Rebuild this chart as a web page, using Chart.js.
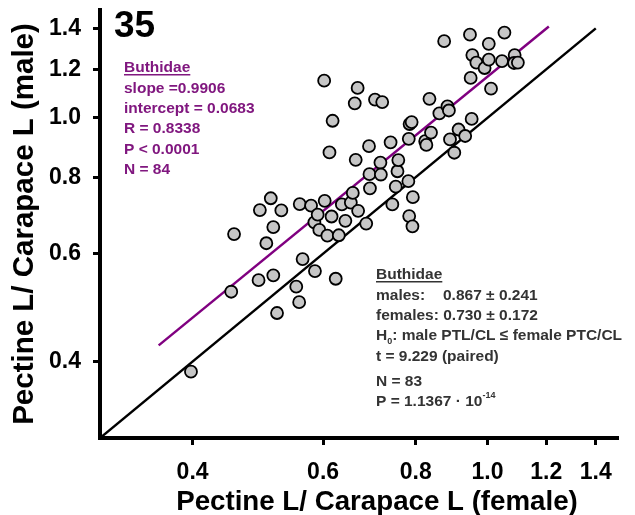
<!DOCTYPE html>
<html>
<head>
<meta charset="utf-8">
<script src="https://cdn.jsdelivr.net/npm/chart.js@4.4.1/dist/chart.umd.min.js"></script>
<style>
  html, body { margin: 0; padding: 0; background: #fff; }
  #wrap { width: 635px; height: 515px; }
</style>
</head>
<body>
<div id="wrap"><canvas id="c" width="635" height="515"></canvas></div>
<script>
// Pectine length / carapace length, female vs male, Buthidae (log-log scatter)

const femaleRatio = [
  0.398, 0.451, 0.455, 0.491, 0.493, 0.503, 0.510, 0.514, 0.514, 0.520,
  0.527, 0.552, 0.557, 0.558, 0.563, 0.578, 0.584, 0.585, 0.590, 0.593,
  0.602, 0.603, 0.608, 0.612, 0.616, 0.618, 0.624, 0.630, 0.636, 0.643,
  0.654, 0.658, 0.662, 0.664, 0.668, 0.669, 0.686, 0.692, 0.693, 0.694,
  0.705, 0.717, 0.718, 0.721, 0.740, 0.744, 0.752, 0.756, 0.758, 0.782,
  0.783, 0.784, 0.785, 0.790, 0.792, 0.793, 0.824, 0.827, 0.835, 0.839,
  0.861, 0.874, 0.883, 0.887, 0.890, 0.902, 0.914, 0.933, 0.947, 0.949,
  0.952, 0.954, 0.966, 0.991, 1.004, 1.004, 1.011, 1.046, 1.054, 1.088,
  1.086, 1.099
];
const maleRatio = [
  0.385, 0.520, 0.646, 0.543, 0.707, 0.624, 0.739, 0.663, 0.553, 0.480,
  0.706, 0.530, 0.500, 0.723, 0.588, 0.719, 0.675, 0.562, 0.695, 0.656,
  1.150, 0.732, 0.642, 0.878, 0.690, 0.989, 0.546, 0.643, 0.722, 0.679,
  0.727, 0.754, 1.056, 0.854, 1.119, 0.705, 0.672, 0.899, 0.809, 0.767,
  1.071, 0.845, 0.808, 1.061, 0.912, 0.722, 0.772, 0.818, 0.853, 0.788,
  0.924, 0.691, 0.977, 0.984, 0.665, 0.742, 0.916, 0.903, 1.074, 0.946,
  1.017, 1.334, 1.044, 1.028, 0.922, 0.877, 0.957, 0.934, 1.367, 1.162,
  0.996, 1.266, 1.231, 1.206, 1.321, 1.245, 1.116, 1.238, 1.378, 1.266,
  1.229, 1.231
];

const xTicks = [0.4, 0.6, 0.8, 1.0, 1.2, 1.4];
const yTicks = [0.4, 0.6, 0.8, 1.0, 1.2, 1.4];

// y = x reference line and the fitted regression line (end points)
const equalLineX = [0.3, 1.4];
const equalLineY = [0.3, 1.4];
const fitLineX = [0.36, 1.21];
const fitLineY = [0.425, 1.41];

const panelLabel = '35';
const xTitle = 'Pectine L/ Carapace L (female)';
const yTitle = 'Pectine L/ Carapace L (male)';
const fitTitle = 'Buthidae';
const fitLines = ['slope =0.9906', 'intercept = 0.0683', 'R = 0.8338', 'P < 0.0001', 'N = 84'];
const testTitle = 'Buthidae';

const FONT = '"Liberation Sans", Arial, Helvetica, sans-serif';
const PURPLE = '#80177f';
const GREY_TXT = '#333333';

function pairs(xs, ys) {
  return xs.map((x, i) => ({ x, y: ys[i] }));
}

function underlined(ctx, text, x, y) {
  ctx.fillText(text, x, y);
  const w = ctx.measureText(text).width;
  ctx.fillRect(x, y + 2, w, 1.5);
}

const textPlugin = {
  id: 'annotText',
  afterDraw(chart) {
    const ctx = chart.ctx;
    ctx.save();
    ctx.textBaseline = 'alphabetic';
    ctx.textAlign = 'left';

    // panel number
    ctx.fillStyle = '#000';
    ctx.font = `bold 37px ${FONT}`;
    ctx.fillText(panelLabel, 114, 37);

    // x axis title
    ctx.font = `bold 27.7px ${FONT}`;
    ctx.textAlign = 'center';
    ctx.fillText(xTitle, 377, 510);
    ctx.textAlign = 'left';

    // regression box
    ctx.fillStyle = PURPLE;
    ctx.font = `bold 15.5px ${FONT}`;
    underlined(ctx, fitTitle, 124, 72);
    fitLines.forEach((t, i) => ctx.fillText(t, 124, 92.5 + i * 20.4));

    // paired t-test box
    ctx.fillStyle = GREY_TXT;
    const x0 = 376;
    underlined(ctx, testTitle, x0, 279);
    ctx.fillText('males:', x0, 299.5);
    ctx.fillText('0.867 \u00b1 0.241', 443, 299.5);
    ctx.fillText('females: 0.730 \u00b1 0.172', x0, 319.5);
    // H0 line with subscript
    ctx.fillText('H', x0, 340);
    let w = ctx.measureText('H').width;
    ctx.font = `bold 9px ${FONT}`;
    ctx.fillText('0', x0 + w, 343.5);
    const w0 = ctx.measureText('0').width;
    ctx.font = `bold 15.5px ${FONT}`;
    ctx.fillText(': male PTL/CL \u2264 female PTC/CL', x0 + w + w0, 340);
    ctx.fillText('t = 9.229 (paired)', x0, 361);
    ctx.fillText('N = 83', x0, 385.5);
    const pTxt = 'P = 1.1367 \u00b7 10';
    ctx.fillText(pTxt, x0, 406);
    w = ctx.measureText(pTxt).width;
    ctx.font = `bold 9px ${FONT}`;
    ctx.fillText('-14', x0 + w, 398);
    ctx.restore();
  }
};

const tickFont = { family: FONT, size: 23, weight: 'bold' };
const tickGrid = {
  drawOnChartArea: false,
  drawTicks: true,
  tickLength: 7,
  tickWidth: 3,
  tickColor: '#000',
  color: '#000'
};

new Chart(document.getElementById('c'), {
  type: 'scatter',
  data: {
    datasets: [
      {
        label: 'pairs',
        data: pairs(femaleRatio, maleRatio),
        pointRadius: 6,
        pointBorderWidth: 1.8,
        pointBackgroundColor: '#c6c6c6',
        pointBorderColor: '#000',
        showLine: false,
        order: 0
      },
      {
        label: 'fit',
        data: pairs(fitLineX, fitLineY),
        showLine: true,
        borderColor: '#800080',
        borderWidth: 2.5,
        pointRadius: 0,
        order: 1
      },
      {
        label: 'x = y',
        data: pairs(equalLineX, equalLineY),
        showLine: true,
        borderColor: '#000',
        borderWidth: 2.5,
        pointRadius: 0,
        order: 2
      }
    ]
  },
  options: {
    responsive: false,
    animation: false,
    layout: { padding: { top: 10, right: 17, bottom: 0, left: 0 } },
    plugins: { legend: { display: false }, tooltip: { enabled: false } },
    scales: {
      x: {
        type: 'logarithmic',
        position: 'bottom',
        min: 0.3,
        max: 1.5,
        afterBuildTicks: (s) => { s.ticks = xTicks.map((v) => ({ value: v })); },
        afterFit: (s) => {
          s.height = 77;
          s.paddingLeft = 0;
          s.paddingRight = 0;
        },
        ticks: {
          callback: (v) => Number(v).toFixed(1),
          color: '#000',
          font: tickFont,
          padding: 14,
          autoSkip: false,
          maxRotation: 0
        },
        grid: tickGrid,
        border: { display: true, color: '#000', width: 4 }
      },
      y: {
        type: 'logarithmic',
        position: 'left',
        min: 0.3,
        max: 1.5,
        afterBuildTicks: (s) => { s.ticks = yTicks.map((v) => ({ value: v })); },
        afterFit: (s) => {
          s.width = 100;
          s.paddingTop = 0;
          s.paddingBottom = 0;
        },
        ticks: {
          callback: (v) => Number(v).toFixed(1),
          color: '#000',
          font: tickFont,
          padding: 12,
          autoSkip: false
        },
        grid: tickGrid,
        border: { display: true, color: '#000', width: 4 },
        title: {
          display: true,
          text: yTitle,
          color: '#000',
          font: { family: FONT, size: 29.5, weight: 'bold' },
          padding: { top: 7 }
        }
      }
    }
  },
  plugins: [textPlugin]
});
</script>
</body>
</html>
